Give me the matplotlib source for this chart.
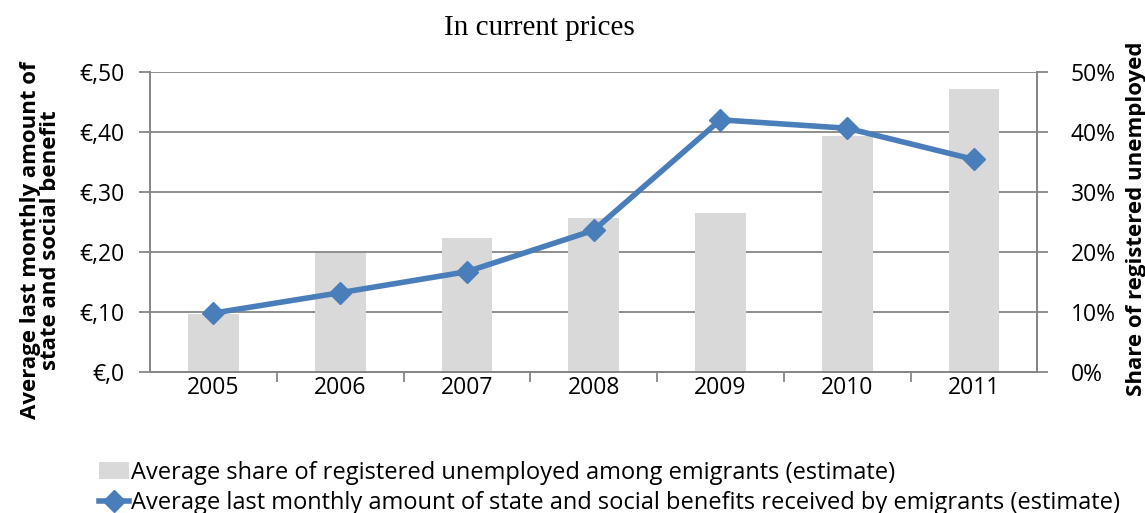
import matplotlib as mpl
import matplotlib.pyplot as plt
from matplotlib.patches import Patch
from matplotlib.lines import Line2D
from matplotlib.ticker import FuncFormatter

mpl.use("Agg")

years = ["2005", "2006", "2007", "2008", "2009", "2010", "2011"]
share_unemployed = [9.6, 19.8, 22.3, 25.6, 26.4, 39.3, 47.2]  # percent
benefit_amount = [0.098, 0.132, 0.167, 0.236, 0.420, 0.406, 0.354]  # euro

bar_label = "Average share of registered unemployed among emigrants (estimate)"
line_label = "Average last monthly amount of state and social benefits received by emigrants (estimate)"

plt.rcParams.update({"font.family": "Open Sans", "font.size": 16.5})

grey = "#868686"
blue = "#4a7ebb"

fig = plt.figure(figsize=(11.45, 5.13), dpi=100)
ax = fig.add_axes([0.131, 0.275, 0.775, 0.585])
ax2 = ax.twinx()

x = list(range(len(years)))

# bars and gridlines live on the right-hand (percent) axis
ax2.bar(x, share_unemployed, width=0.4, color="#d9d9d9", zorder=2)
ax2.set_ylim(0, 50)
ax2.set_yticks(range(0, 51, 10))
ax2.yaxis.set_major_formatter(FuncFormatter(lambda v, p: f"{v:.0f}%"))
ax2.grid(axis="y", color=grey, linewidth=1.3, zorder=0)
ax2.set_axisbelow(True)

# benefit line on the left axis, drawn above the bars
ax.set_zorder(ax2.get_zorder() + 1)
ax.patch.set_visible(False)
ax.plot(x, benefit_amount, color=blue, linewidth=4, marker="D",
        markersize=11, zorder=3)
ax.set_ylim(0, 0.5)
ax.set_yticks([0, 0.1, 0.2, 0.3, 0.4, 0.5])
ax.set_yticklabels(["€,0", "€,10", "€,20", "€,30", "€,40", "€,50"])
ax.set_xlim(-0.5, len(years) - 0.5)
ax.set_xticks(x)
ax.set_xticklabels(years)
ax.set_xticks([i + 0.5 for i in x[:-1]], minor=True)
ax.tick_params(axis="x", which="major", length=0, pad=3)
ax.tick_params(axis="x", which="minor", length=7, width=1.3, color=grey)
ax.tick_params(axis="y", length=8, width=1.3, color=grey, pad=10)
ax2.tick_params(axis="y", length=8, width=1.3, color=grey, pad=16)

for a in (ax, ax2):
    a.spines["top"].set_visible(False)
    for side in ("left", "right", "bottom"):
        a.spines[side].set_color(grey)
        a.spines[side].set_linewidth(1.3)

fig.text(0.471, 0.945, "In current prices", ha="center", va="center",
         family="Liberation Serif", fontsize=21)

ax.set_ylabel("Average last monthly amount of\nstate and social benefit",
              fontweight="bold", fontsize=16, linespacing=0.95)
ax.yaxis.set_label_coords(-0.1, 0.44)
ax2.set_ylabel("Share of registered unemployed", fontweight="bold",
               fontsize=16)
ax2.yaxis.set_label_coords(1.1, 0.51)

handles = [
    Patch(facecolor="#d9d9d9", edgecolor="none"),
    Line2D([0], [0], color=blue, linewidth=4, marker="D", markersize=11),
]
fig.legend(handles, [bar_label, line_label], loc="upper left",
           bbox_to_anchor=(0.078, 0.12), frameon=False, handlelength=1.3,
           handletextpad=0.05, labelspacing=0.25, borderaxespad=0,
           fontsize=17)

fig.savefig("out.png", dpi=100)
plt.close()
